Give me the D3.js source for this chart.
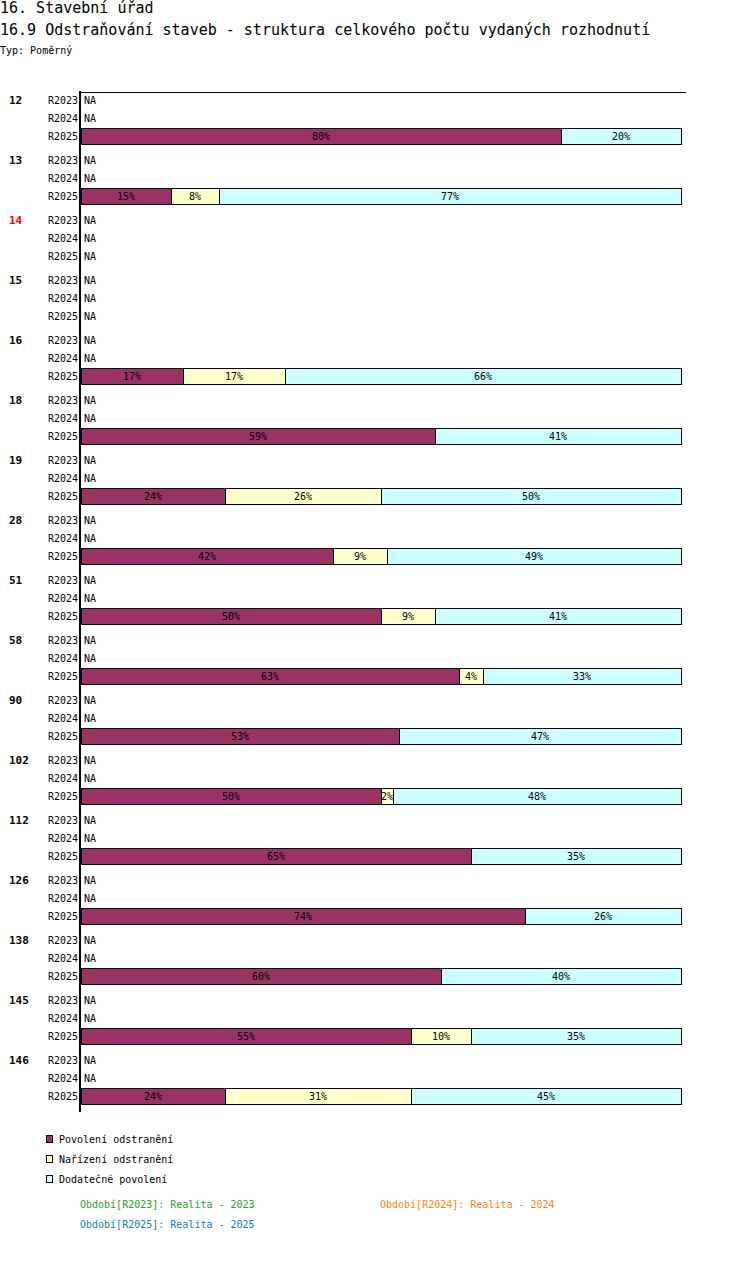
<!DOCTYPE html>
<html>
<head>
<meta charset="utf-8">
<script src="https://cdn.jsdelivr.net/npm/d3@7"></script>
<style>
  body { margin: 0; background: #fff; }
  svg text { font-family: "DejaVu Sans Mono", monospace; }
</style>
</head>
<body>
<div id="chart"></div>
<script>
// categories (stavební úřady) and periods
const categories = ["12", "13", "14", "15", "16", "18", "19", "28", "51", "58", "90", "102", "112", "126", "138", "145", "146"];
const periods = ["R2023", "R2024", "R2025"];
const seriesNames = ["Povolení odstranění", "Nařízení odstranění", "Dodatečné povolení"];
const seriesColors = ["#993366", "#ffffcc", "#ccffff"];

// R2025 percentages per category, null = NA (R2023 and R2024 are NA everywhere)
const povoleni = [80, 15, null, null, 17, 59, 24, 42, 50, 63, 53, 50, 65, 74, 60, 55, 24];
const narizeni = [0, 8, null, null, 17, 0, 26, 9, 9, 4, 0, 2, 0, 0, 0, 10, 31];
const dodatecne = [20, 77, null, null, 66, 41, 50, 49, 41, 33, 47, 48, 35, 26, 40, 35, 45];

const highlighted = ["14"];

const periodNotes = [
    { text: "Období[R2023]: Realita - 2023", color: "#2ca02c" },
    { text: "Období[R2024]: Realita - 2024", color: "#ff7f0e" },
    { text: "Období[R2025]: Realita - 2025", color: "#1f77b4" }
];

const WIDTH = 750, HEIGHT = 1262;
const LEFT = 81, PLOT_W = 600;
const TOP = 91, GROUP_H = 60;

const svg = d3.select("#chart").append("svg")
    .attr("width", WIDTH)
    .attr("height", HEIGHT)

//titles
svg.append("text").attr("x", 0).attr("y", 13)
    .style("font-size", "15px").text("16. Stavební úřad")
svg.append("text").attr("x", 0).attr("y", 35)
    .style("font-size", "15px").text("16.9 Odstraňování staveb - struktura celkového počtu vydaných rozhodnutí")
svg.append("text").attr("x", 0).attr("y", 54)
    .style("font-size", "10px").text("Typ: Poměrný")

//scales
const y = d3.scaleBand()
    .domain(categories)
    .range([TOP, TOP + GROUP_H * categories.length])

const yRow = d3.scaleBand()
    .domain(periods)
    .range([0, 54])

const x = d3.scaleLinear()
    .domain([0, 100])
    .range([LEFT, LEFT + PLOT_W])

// build rows
const rows = []
categories.forEach((c, i) => {
    periods.forEach(p => {
        let vals = null
        if (p === "R2025" && povoleni[i] !== null) vals = [povoleni[i], narizeni[i], dodatecne[i]]
        rows.push({ cat: c, period: p, vals: vals })
    })
})

const rowY = d => y(d.cat) + yRow(d.period) + yRow.bandwidth() / 2

//category labels
svg.selectAll(".cat").data(categories).enter().append("text")
    .attr("x", 9)
    .attr("y", d => y(d) + yRow("R2023") + yRow.bandwidth() / 2)
    .attr("dy", "0.35em")
    .style("font-size", "11px")
    .style("font-weight", "bold")
    .attr("fill", d => highlighted.includes(d) ? "#ff0000" : "#000")
    .text(d => d)

//period labels
svg.selectAll(".per").data(rows).enter().append("text")
    .attr("x", 78)
    .attr("y", rowY)
    .attr("dy", "0.35em")
    .attr("text-anchor", "end")
    .style("font-size", "10px")
    .text(d => d.period)

//NA labels
svg.selectAll(".na").data(rows.filter(d => !d.vals)).enter().append("text")
    .attr("x", 84)
    .attr("y", rowY)
    .attr("dy", "0.35em")
    .style("font-size", "10px")
    .text("NA")

//stacked segments
const segs = []
rows.filter(d => d.vals).forEach(r => {
    let start = 0
    r.vals.forEach((v, k) => {
        if (v > 0) segs.push({ row: r, k: k, x0: start, x1: start + v, v: v })
        start += v
    })
})

svg.selectAll(".seg").data(segs).enter().append("rect")
    .attr("x", d => x(d.x0))
    .attr("y", d => rowY(d.row) - 8)
    .attr("width", d => x(d.x1) - x(d.x0))
    .attr("height", 16)
    .attr("fill", d => seriesColors[d.k])
    .attr("stroke", "#000")
    .attr("stroke-width", 1)
    .attr("shape-rendering", "crispEdges")

svg.selectAll(".segl").data(segs).enter().append("text")
    .attr("x", d => (x(d.x0) + x(d.x1)) / 2)
    .attr("y", d => rowY(d.row))
    .attr("dy", "0.35em")
    .attr("text-anchor", "middle")
    .style("font-size", "10px")
    .text(d => d.v + "%")

//axis lines
svg.append("line")
    .attr("x1", LEFT - 1).attr("x2", LEFT - 1)
    .attr("y1", TOP).attr("y2", TOP + GROUP_H * categories.length + 1)
    .attr("stroke", "#000").attr("stroke-width", 2)
svg.append("line")
    .attr("x1", LEFT - 1).attr("x2", 686)
    .attr("y1", TOP + 1.5).attr("y2", TOP + 1.5)
    .attr("stroke", "#000").attr("stroke-width", 1)

//legend
const legend = svg.selectAll(".leg").data(seriesNames).enter().append("g")
    .attr("transform", (d, i) => "translate(46," + (1135 + i * 20) + ")")
legend.append("rect")
    .attr("width", 6).attr("height", 7)
    .attr("fill", (d, i) => seriesColors[i])
    .attr("stroke", "#000")
    .attr("shape-rendering", "crispEdges")
legend.append("text")
    .attr("x", 13).attr("y", 4)
    .attr("dy", "0.35em")
    .style("font-size", "10px")
    .text(d => d)

//period notes
svg.selectAll(".note").data(periodNotes).enter().append("text")
    .attr("x", (d, i) => i === 1 ? 380 : 80)
    .attr("y", (d, i) => i === 2 ? 1224 : 1204)
    .attr("dy", "0.35em")
    .style("font-size", "10px")
    .attr("fill", d => d.color)
    .text(d => d.text)
</script>
</body>
</html>
